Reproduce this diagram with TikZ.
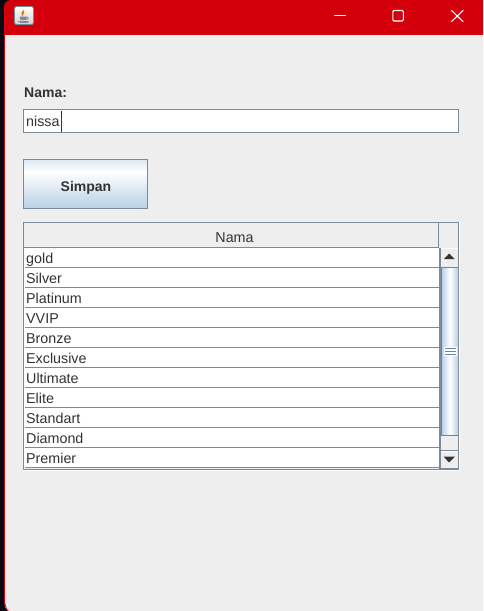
\documentclass[tikz,border=0pt]{standalone}
\usepackage{fontspec}
\setmainfont{Liberation Sans}
\definecolor{winred}{HTML}{D3000C}
\definecolor{pane}{HTML}{EEEEEE}
\definecolor{edge}{HTML}{7A8A99}
\definecolor{txt}{HTML}{333333}
\definecolor{btop}{HTML}{DDE8F3}
\definecolor{bbot}{HTML}{B8CFE5}
\definecolor{thumbedge}{HTML}{6382BF}
\definecolor{outside}{HTML}{0A0A14}
\tikzset{
  px/.style={x=1pt,y=-1pt},
  plain/.style={font=\fontsize{14.3}{16}\selectfont,text=txt,inner sep=0pt,anchor=base west},
  boldlabel/.style={font=\fontsize{14}{16}\selectfont\bfseries,text=txt,inner sep=0pt},
  rule/.style={draw=edge,line width=1pt},
  wbtn/.style={draw=white,line width=1.1pt,fill=none}
}
\begin{document}
\begin{tikzpicture}[px]
\useasboundingbox (0,0) rectangle (483,611);
% outside of window and window body
\fill[outside] (0,0) rectangle (483,611);
\fill[winred] (4,611) -- (4,7) .. controls (4,3) and (7,0) .. (11,0) -- (483,0) -- (483,35) -- (5,35) -- (5,611) -- cycle;
\fill[pane] (5,35) rectangle (483,611);
\fill[outside] (4,601) .. controls (4,605) and (5,609) .. (8,611) -- (4,611) -- cycle;
\draw[winred,line width=1pt] (4.6,598) .. controls (4.6,604) and (5.5,608) .. (8.5,611);
\fill[pane] (5.1,598) .. controls (5.1,604) and (6,608) .. (9,611) -- (20,611) -- (20,598) -- cycle;
% title bar icon
\shade[top color=white,bottom color=black!18,draw=edge,rounded corners=1.5pt,line width=0.8pt] (14.5,6.5) rectangle (33.5,24.5);
\fill[orange!85!red] (23.5,10) .. controls (20.5,13) and (21,14) .. (22.5,16.5) .. controls (22,14) and (26,13) .. (23.5,10) -- cycle;
\fill[edge] (19.5,16.5) -- (27,16.5) -- (26,20) -- (20.5,20) -- cycle;
\draw[edge,line width=0.7pt] (27,17) .. controls (29,17) and (29,19.5) .. (26.5,19.5);
\draw[edge,line width=0.8pt] (18,21) -- (29,21);
\draw[edge,line width=0.8pt] (19.5,22.7) -- (27.5,22.7);
% window buttons
\draw[wbtn] (334,15.5) -- (346,15.5);
\draw[wbtn,rounded corners=1.2pt] (392.8,10.5) rectangle (403.3,21);
\draw[wbtn] (451.3,10.3) -- (463.2,21.8);
\draw[wbtn] (463.2,10.3) -- (451.3,21.8);
% name label and field
\node[boldlabel,anchor=base west] (namelabel) at (24,97) {Nama:};
\node[draw=edge,line width=1pt,fill=white,minimum width=435pt,minimum height=23pt,inner sep=0pt,anchor=north west] (field) at (23,109) {};
\node[plain] (fieldtext) at (26,126.5) {nissa};
\draw[txt,line width=1pt] (61.5,111) -- (61.5,131.5);
% save button
\shade[top color=btop,bottom color=white,draw=none] (23.5,159.5) rectangle (147.5,172);
\shade[top color=white,bottom color=bbot,draw=none] (23.5,172) rectangle (147.5,208.5);
\node[draw=edge,line width=1pt,minimum width=124pt,minimum height=49pt,inner sep=0pt,anchor=north west] (simpan) at (23,159) {};
\node[font=\fontsize{14}{16}\selectfont\bfseries,text=txt,inner sep=0pt,anchor=base] (simpantext) at (86,191) {Simpan};
% table body
\fill[white] (24,248) rectangle (439,468);
\fill[white] (459,222) rectangle (460.4,471.2);
\fill[white] (23,470) rectangle (460.4,471.2);
\node[draw=edge,line width=1pt,minimum width=435pt,minimum height=247pt,inner sep=0pt,anchor=north west] (table) at (23,222) {};
\node[font=\fontsize{14.3}{16}\selectfont,text=txt,inner sep=0pt] (header) at (234.5,237.2) {Nama};
\draw[rule] (24,247.5) -- (438.5,247.5);
\draw[rule] (438.5,223) -- (438.5,247.5);
\foreach \yy/\name in {267.5/gold,287.5/Silver,307.5/Platinum,327.5/VVIP,347.5/Bronze,367.5/Exclusive,387.5/Ultimate,407.5/Elite,427.5/Standart,447.5/Diamond,467.5/Premier}{
  \draw[rule] (25,\yy) -- (439,\yy);
  \node[plain] at (26,\yy-4.5) {\name};
}
% scrollbar
\fill[pane] (441,248) rectangle (458,469);
\fill[edge] (438.5,248) rectangle (441,469);
\draw[white,line width=1pt] (441,248.5) -- (458,248.5);
\draw[edge,line width=1.4pt] (441,468.7) -- (458,468.7);
% thumb
\shade[left color=bbot,right color=white,draw=none] (441.5,267.5) rectangle (450,435.5);
\shade[left color=white,right color=bbot,draw=none] (450,267.5) rectangle (458,435.5);
\draw[thumbedge,line width=1.3pt] (458,267.5) -- (441.4,267.5) -- (441.4,435.5) -- (458,435.5);
\fill[white] (444,347) rectangle (457,356);
\foreach \yy in {348.5,351.5,354.5}{
  \draw[thumbedge,line width=0.8pt] (445,\yy) -- (456,\yy);
}
% scroll buttons
\draw[edge,line width=1pt] (441,450.5) -- (458,450.5);
\fill[white] (441.5,451) rectangle (458,452);
\fill[txt] (444,259) -- (449.2,253.5) -- (454.5,259) -- cycle;
\fill[txt] (443.5,456.7) -- (455,456.7) -- (449.2,462.5) -- cycle;
\end{tikzpicture}
\end{document}
